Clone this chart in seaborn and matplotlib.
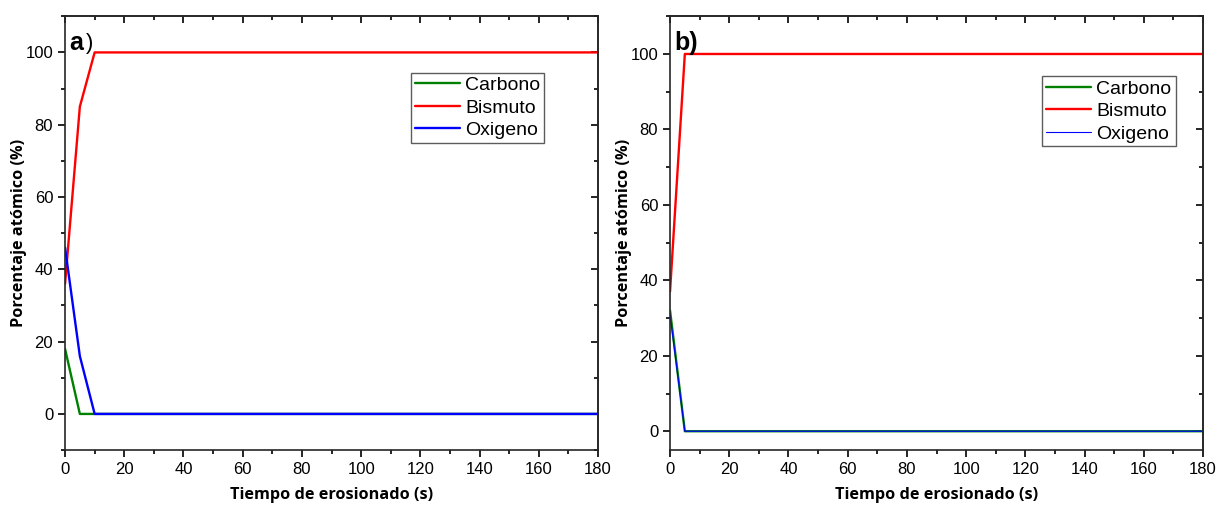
import numpy as np
import pandas as pd
import seaborn as sns
import matplotlib.pyplot as plt
from matplotlib.ticker import MultipleLocator

# datos
tiempo = [0, 5, 10, 20, 40, 60, 80, 100, 120, 140, 160, 180]
carbono_a = [18, 0, 0, 0, 0, 0, 0, 0, 0, 0, 0, 0]
bismuto_a = [36, 85, 100, 100, 100, 100, 100, 100, 100, 100, 100, 100]
oxigeno_a = [46, 16, 0, 0, 0, 0, 0, 0, 0, 0, 0, 0]

carbono_b = [32, 0, 0, 0, 0, 0, 0, 0, 0, 0, 0, 0]
bismuto_b = [37, 100, 100, 100, 100, 100, 100, 100, 100, 100, 100, 100]
oxigeno_b = [31, 0, 0, 0, 0, 0, 0, 0, 0, 0, 0, 0]

sns.set_style("ticks")
plt.rcParams['font.family'] = ['Liberation Sans', 'DejaVu Sans']
plt.rcParams['text.color'] = 'black'
plt.rcParams['axes.labelcolor'] = 'black'
plt.rcParams['xtick.color'] = 'black'
plt.rcParams['ytick.color'] = 'black'

fig = plt.figure(figsize=(12.18, 5.08), dpi=100)
ax1 = fig.add_axes([0.0534, 0.114, 0.4376, 0.854])
ax2 = fig.add_axes([0.5501, 0.114, 0.4376, 0.854])


def ticks(axis_obj, major, minor):
    axis_obj.set_major_locator(MultipleLocator(major))
    axis_obj.set_minor_locator(MultipleLocator(minor))


def panel(ax, c, b, o, ylim, lw_o, leg_x, leg_y):
    df = pd.DataFrame({"t": tiempo, "Carbono": c, "Bismuto": b, "Oxigeno": o})
    sns.lineplot(data=df, x="t", y="Carbono", ax=ax, color="#008000", lw=1.7, label="Carbono")
    sns.lineplot(data=df, x="t", y="Bismuto", ax=ax, color="#ff0000", lw=1.7, label="Bismuto")
    sns.lineplot(data=df, x="t", y="Oxigeno", ax=ax, color="#0000ff", lw=lw_o, label="Oxigeno")
    ax.set_xlim(0, 180)
    ax.set_ylim(*ylim)
    ticks(ax.xaxis, 20, 10)
    ticks(ax.yaxis, 20, 10)
    ax.tick_params(which="both", direction="out", labelsize=12, width=1.2)
    ax.tick_params(which="major", length=5)
    ax.tick_params(which="minor", length=3)
    # ticks hacia dentro arriba y a la derecha
    top = ax.secondary_xaxis("top")
    right = ax.secondary_yaxis("right")
    ticks(top.xaxis, 20, 10)
    ticks(right.yaxis, 20, 10)
    for sec in (top, right):
        sec.tick_params(which="both", direction="in", width=1.2, labeltop=False,
                        labelright=False)
        sec.tick_params(which="major", length=5)
        sec.tick_params(which="minor", length=3)
        for s in sec.spines.values():
            s.set_linewidth(1.2)
    for s in ax.spines.values():
        s.set_linewidth(1.2)
    ax.set_xlabel("Tiempo de erosionado (s)", fontsize=11.7, fontweight="bold",
                  family=["Open Sans", "DejaVu Sans"], labelpad=7)
    ax.set_ylabel("Porcentaje atómico (%)", fontsize=11.7, fontweight="bold",
                  family=["Open Sans", "DejaVu Sans"], labelpad=-1)
    leg = ax.legend(loc="upper left", bbox_to_anchor=(leg_x, leg_y), fontsize=14,
                    frameon=True, fancybox=False, edgecolor="#333333",
                    handlelength=2.3, handletextpad=0.3, borderpad=0.2,
                    labelspacing=0.25, borderaxespad=0)
    leg.get_frame().set_linewidth(1.0)


panel(ax1, carbono_a, bismuto_a, oxigeno_a, (-10, 110), 1.7, 0.649, 0.87)
panel(ax2, carbono_b, bismuto_b, oxigeno_b, (-5, 110), 0.8, 0.698, 0.862)

# etiquetas de panel
ax1.text(0.008, 0.965, "a", transform=ax1.transAxes, fontsize=18,
         fontweight="bold", va="top", ha="left")
ax1.text(0.040, 0.962, ")", transform=ax1.transAxes, fontsize=16,
         va="top", ha="left")
ax2.text(0.008, 0.965, "b)", transform=ax2.transAxes, fontsize=18,
         fontweight="bold", va="top", ha="left")

fig.savefig("out.png", dpi=100)
